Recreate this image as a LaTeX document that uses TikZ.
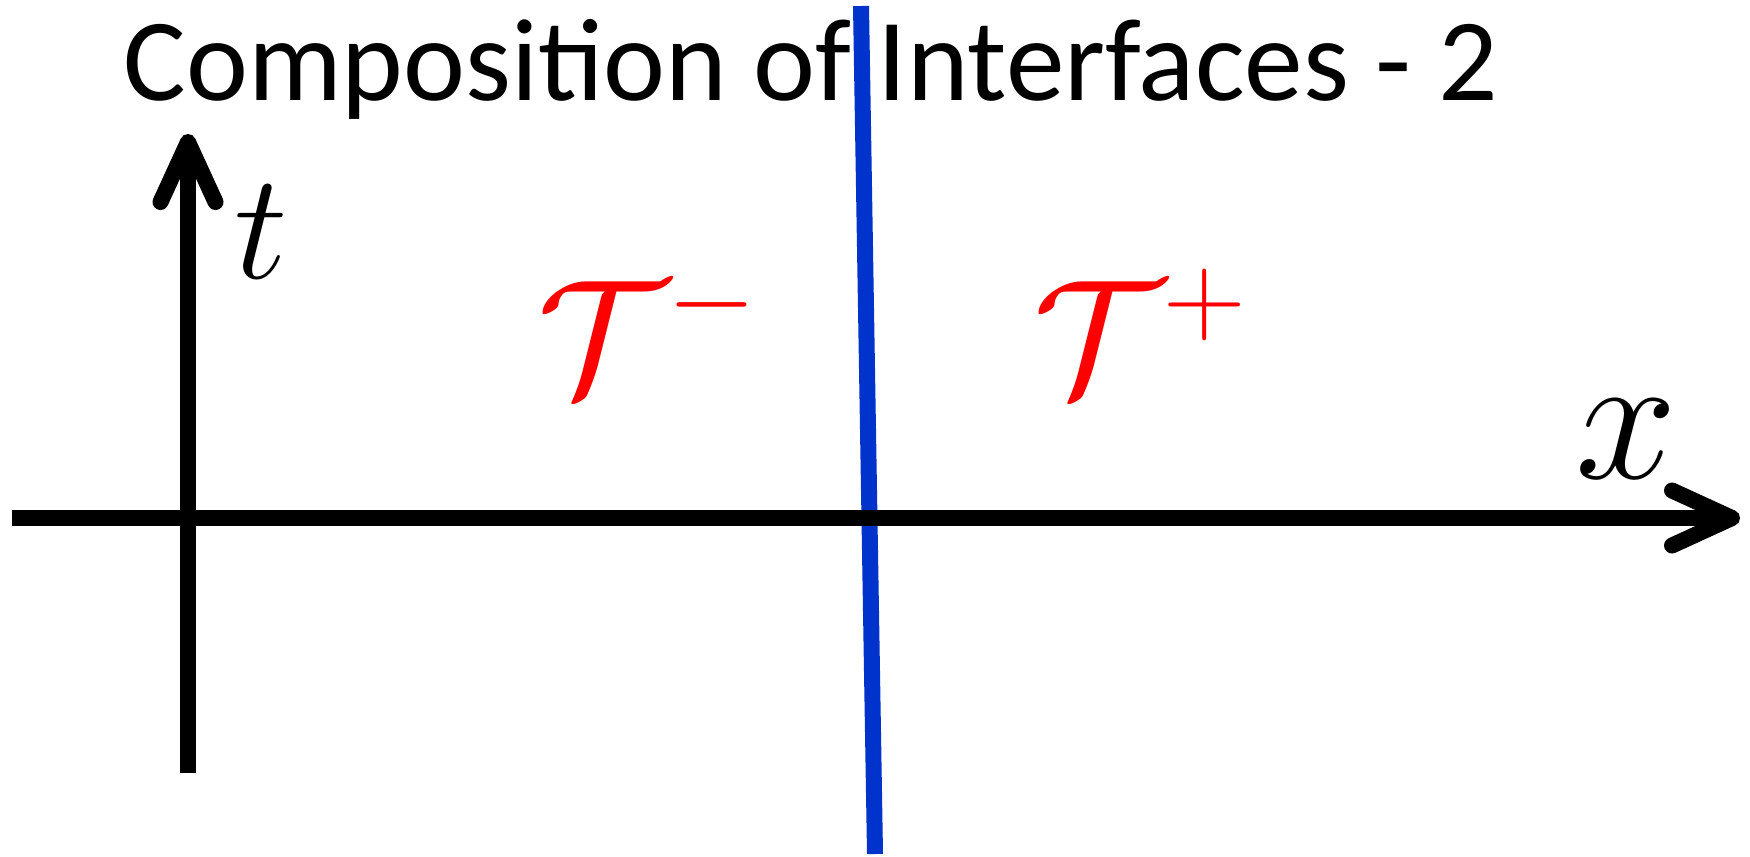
\RequirePackage{fix-cm}
\documentclass[tikz,border=0pt]{standalone}
\usepackage{fontspec}
\usepackage{amsmath}
\usepackage{tikz}
\usetikzlibrary{arrows.meta,positioning}
\newfontfamily\titlefont{Carlito}
\definecolor{cutblue}{RGB}{0,51,204}
\tikzstyle{axisline}=[draw=black, line width=0.16cm,
        -{Straight Barb[round, length=0.6cm, width=0.55cm]}]
\tikzstyle{lbl}=[inner sep=0pt, outer sep=0pt, anchor=base west]
\tikzstyle{side}=[inner sep=0pt, outer sep=0pt, anchor=base west, text=red,
        font=\fontsize{46.5}{52}\selectfont]

\begin{document}
\begin{tikzpicture}
        \useasboundingbox (0,0) rectangle (17.5,8.56);

        \node[inner sep=0pt, anchor=base west,
            font=\titlefont\fontsize{33.4}{40}\selectfont] (title) at (1.23,7.56)
            {Composition of Interfaces - 2};

        % interface
        \coordinate (top) at (8.61,8.50);
        \coordinate (bot) at (8.75,0.02);
        \draw[cutblue, line width=0.16cm] (top) -- (bot);

        % axes
        \coordinate (xstart) at (0.12,3.38);
        \coordinate (xend) at (17.40,3.38);
        \coordinate (tstart) at (1.88,0.83);
        \coordinate (tend) at (1.88,7.22);
        \draw[axisline] (xstart) to (xend);
        \draw[axisline] (tstart) to (tend);

        \node[lbl, font=\fontsize{43}{48}\selectfont] (tlabel) at (2.34,5.78) {$t$};
        \node[lbl, font=\fontsize{52}{58}\selectfont] (xlabel) at (15.75,3.78) {$x$};

        \node[side] (tminus) at (5.37,4.63) {$\mathcal{T}^{-}$};
        \node[side] (tplus) at (10.33,4.63) {$\mathcal{T}^{+}$};
    \end{tikzpicture}
\end{document}
